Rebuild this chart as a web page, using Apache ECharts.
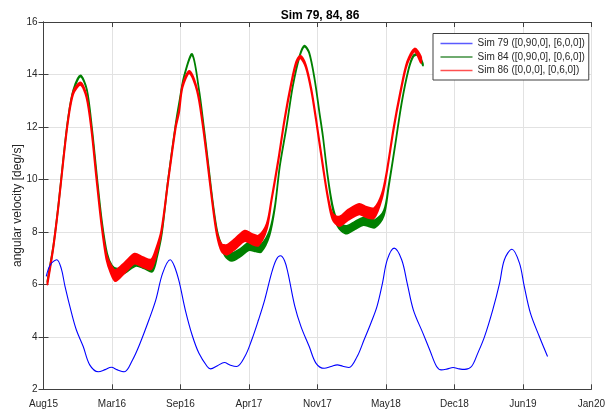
<!DOCTYPE html>
<html>
<head>
<meta charset="utf-8">
<script src="https://cdn.jsdelivr.net/npm/echarts@6/dist/echarts.min.js"></script>
<style>
  html, body { margin: 0; padding: 0; background: #fff; }
  #chart { width: 608px; height: 410px; }
</style>
</head>
<body>
<div id="chart"></div>
<script>
// x is measured in tick steps from Aug15 (0) to Jan20 (8)
const tickLabels = ['Aug15', 'Mar16', 'Sep16', 'Apr17', 'Nov17', 'May18', 'Dec18', 'Jun19', 'Jan20']

// Sim 79 (thin blue)
const blueX = [0.04, 0.1, 0.193, 0.26, 0.314, 0.41, 0.48, 0.58, 0.675, 0.8, 0.9, 0.99, 1.08, 1.18, 1.3, 1.4, 1.54, 1.64, 1.74, 1.85, 1.91,
  1.98, 2.07, 2.17, 2.27, 2.39, 2.44, 2.54, 2.64, 2.73, 2.82, 2.94, 3.04, 3.14, 3.23, 3.33, 3.4, 3.46, 3.52, 3.57, 3.67, 3.76, 3.88, 3.98,
  4.1, 4.2, 4.29, 4.37, 4.46, 4.58, 4.68, 4.78, 4.87, 4.95, 5.02, 5.12, 5.23, 5.31, 5.4, 5.54, 5.64, 5.74, 5.81, 5.9, 5.98,
  6.07, 6.15, 6.25, 6.34, 6.44, 6.56, 6.66, 6.73, 6.84, 6.95, 7.02, 7.11, 7.24, 7.36]
const blueY = [6.3, 6.75, 6.94, 6.6, 5.92, 4.9, 4.26, 3.63, 2.93, 2.67, 2.75, 2.84, 2.74, 2.67, 3.12, 3.69, 4.65, 5.41, 6.43, 6.94, 6.7,
  6.11, 5.03, 4.07, 3.37, 2.87, 2.78, 2.9, 3.02, 2.92, 2.87, 3.25, 3.88, 4.65, 5.41, 6.43, 6.95, 7.09, 6.9, 6.43, 5.16, 4.39, 3.63, 2.99,
  2.8, 2.87, 2.93, 2.88, 2.83, 3.25, 3.88, 4.52, 5.16, 6.05, 6.94, 7.38, 6.94, 6.05, 5.03, 4.14, 3.5, 2.87, 2.74, 2.78, 2.83,
  2.78, 2.76, 2.87, 3.37, 4.01, 5.03, 6.05, 6.94, 7.34, 6.81, 5.92, 4.9, 4.01, 3.25]

// Sim 84 (green): band centre and band width
const greenX = [0.058, 0.145, 0.217, 0.29, 0.36, 0.434, 0.54, 0.635, 0.71, 0.78, 0.855, 0.93, 1.0, 1.08, 1.2, 1.35, 1.47, 1.59,
  1.66, 1.73, 1.82, 1.93, 1.98, 2.05, 2.17, 2.27, 2.34, 2.41, 2.48, 2.55, 2.65, 2.75, 2.87, 3.0, 3.1, 3.18,
  3.3, 3.38, 3.45, 3.55, 3.64, 3.74, 3.81, 3.88, 3.96, 4.03, 4.08, 4.15, 4.22, 4.29, 4.41, 4.55, 4.67, 4.76, 4.84,
  4.97, 5.04, 5.14, 5.23, 5.33, 5.4, 5.47, 5.54]
const greenY = [6.12, 7.48, 9.0, 10.8, 12.35, 13.38, 13.94, 13.4, 11.9, 10.12, 8.34, 7.1, 6.6, 6.45, 6.6, 6.85, 6.75, 6.62,
  7.15, 8.0, 10.0, 12.1, 12.9, 13.9, 14.76, 13.43, 12.03, 10.5, 8.97, 7.83, 7.19, 7.04, 7.2, 7.45, 7.4, 7.38,
  7.95, 8.97, 10.5, 12.03, 13.55, 14.7, 15.08, 14.82, 13.8, 12.53, 11.64, 10.12, 8.97, 8.34, 8.08, 8.25, 8.4, 8.35, 8.31,
  8.72, 9.74, 11.39, 12.92, 14.19, 14.7, 14.76, 14.38]
const greenBand = [0.06, 0.06, 0.06, 0.06, 0.05, 0.05, 0.05, 0.05, 0.06, 0.06, 0.08, 0.15, 0.24, 0.3, 0.3, 0.3, 0.3, 0.28,
  0.2, 0.1, 0.06, 0.06, 0.05, 0.05, 0.05, 0.05, 0.05, 0.06, 0.06, 0.12, 0.22, 0.3, 0.3, 0.3, 0.3, 0.3,
  0.2, 0.1, 0.06, 0.06, 0.05, 0.05, 0.05, 0.05, 0.05, 0.06, 0.06, 0.06, 0.12, 0.22, 0.3, 0.3, 0.3, 0.3, 0.3,
  0.2, 0.1, 0.06, 0.06, 0.05, 0.05, 0.05, 0.08]

// Sim 86 (red): band centre and band width
const redX = [0.058, 0.145, 0.217, 0.29, 0.36, 0.434, 0.54, 0.627, 0.7, 0.77, 0.844, 0.917, 0.98, 1.05, 1.19, 1.33, 1.45, 1.57,
  1.64, 1.72, 1.823, 1.93, 1.98, 2.03, 2.13, 2.24, 2.315, 2.39, 2.46, 2.53, 2.6, 2.68, 2.8, 2.94, 3.05, 3.14,
  3.26, 3.33, 3.43, 3.52, 3.62, 3.69, 3.75, 3.83, 3.91, 3.98, 4.08, 4.15, 4.22, 4.32, 4.45, 4.61, 4.72, 4.83,
  4.94, 5.01, 5.11, 5.21, 5.31, 5.42, 5.51]
const redY = [6.05, 7.45, 8.97, 10.75, 12.28, 13.3, 13.65, 13.17, 11.9, 10.12, 8.34, 7.06, 6.6, 6.33, 6.65, 6.98, 6.85, 6.76,
  7.19, 8.0, 10.0, 12.0, 12.6, 13.55, 14.09, 13.43, 12.28, 10.75, 9.23, 7.95, 7.4, 7.32, 7.55, 7.85, 7.72, 7.67,
  8.21, 9.23, 10.75, 12.28, 13.68, 14.44, 14.67, 14.32, 13.42, 12.28, 10.5, 9.35, 8.59, 8.4, 8.65, 8.87, 8.75, 8.72,
  9.35, 10.24, 11.9, 13.3, 14.44, 14.93, 14.57]
const redBand = [0.1, 0.1, 0.1, 0.1, 0.1, 0.1, 0.1, 0.1, 0.1, 0.1, 0.1, 0.2, 0.32, 0.42, 0.4, 0.38, 0.38, 0.38,
  0.3, 0.12, 0.1, 0.1, 0.1, 0.1, 0.1, 0.1, 0.1, 0.1, 0.1, 0.12, 0.28, 0.38, 0.4, 0.4, 0.4, 0.38,
  0.22, 0.1, 0.1, 0.1, 0.1, 0.1, 0.1, 0.1, 0.1, 0.1, 0.1, 0.1, 0.22, 0.36, 0.4, 0.4, 0.4, 0.38,
  0.2, 0.1, 0.1, 0.1, 0.1, 0.12, 0.25]

const names = ['Sim 79 ([0,90,0], [6,0,0])', 'Sim 84 ([0,90,0], [0,6,0])', 'Sim 86 ([0,0,0], [0,6,0])']
const axisColor = '#404040'
const textColor = '#262626'
const gridColor = '#e2e2e2'
const fontFamily = '"Liberation Sans", Arial, Helvetica, sans-serif'

function pairs (xs, ys) {
  return xs.map((x, i) => [x, ys[i]])
}

// the noisy trace is drawn as a filled band: upper edge, then lower edge back
function bandSeries (name, color, xs, mid, band, stroke) {
  return {
    name: name,
    type: 'custom',
    coordinateSystem: 'cartesian2d',
    data: pairs(xs, mid),
    encode: { x: 0, y: 1 },
    itemStyle: { color: color },
    renderItem: (params, api) => {
      if (params.dataIndex !== 0) return null
      const upper = xs.map((x, i) => api.coord([x, mid[i] + band[i] / 2]))
      const lower = xs.map((x, i) => api.coord([x, mid[i] - band[i] / 2])).reverse()
      return {
        type: 'polygon',
        shape: { points: upper.concat(lower), smooth: 0.3 },
        style: { fill: color, stroke: color, lineWidth: stroke, lineJoin: 'round' }
      }
    }
  }
}

const chart = echarts.init(document.getElementById('chart'), null, { renderer: 'canvas' })

chart.setOption({
  animation: false,
  backgroundColor: '#fff',
  title: {
    text: 'Sim 79, 84, 86',
    left: 320,
    top: 10,
    padding: 0,
    textAlign: 'center',
    textStyle: { fontFamily: fontFamily, fontSize: 12, fontWeight: 'bold', color: '#000' }
  },
  legend: {
    data: [
      { name: names[0], itemStyle: { color: '#5a5aff' } },
      { name: names[1], itemStyle: { color: '#3f8f3f' } },
      { name: names[2], itemStyle: { color: '#ff5050' } }
    ],
    orient: 'vertical',
    left: 433,
    top: 33.5,
    icon: 'rect',
    itemWidth: 32,
    itemHeight: 1.5,
    itemGap: 1.5,
    padding: [4, 4, 3.5, 7.5],
    borderColor: axisColor,
    borderWidth: 1,
    borderRadius: 0,
    backgroundColor: '#fff',
    selectedMode: false,
    textStyle: { fontFamily: fontFamily, fontSize: 10, color: textColor, lineHeight: 12 }
  },
  grid: {
    left: 43.5,
    right: 10.7,
    top: 22,
    bottom: 20.7,
    containLabel: false
  },
  xAxis: [
    {
      type: 'value',
      min: 0,
      max: 8,
      interval: 1,
      axisLine: { lineStyle: { color: axisColor } },
      axisTick: { inside: true, length: 5, lineStyle: { color: axisColor } },
      axisLabel: {
        margin: 10,
        color: textColor,
        fontFamily: fontFamily,
        fontSize: 10,
        formatter: (v) => tickLabels[Math.round(v)]
      },
      splitLine: { show: true, lineStyle: { color: gridColor } }
    },
    {
      type: 'value',
      position: 'top',
      min: 0,
      max: 8,
      interval: 1,
      axisLine: { lineStyle: { color: axisColor } },
      axisTick: { inside: true, length: 5, lineStyle: { color: axisColor } },
      axisLabel: { show: false },
      splitLine: { show: false }
    }
  ],
  yAxis: [
    {
      type: 'value',
      min: 2,
      max: 16,
      interval: 2,
      name: 'angular velocity [deg/s]',
      nameLocation: 'middle',
      nameGap: 20,
      nameMoveOverlap: false,
      nameTextStyle: { fontFamily: fontFamily, fontSize: 12, color: textColor },
      axisLine: { show: true, lineStyle: { color: axisColor } },
      axisTick: { show: true, inside: true, length: 5, lineStyle: { color: axisColor } },
      axisLabel: { margin: 6, color: textColor, fontFamily: fontFamily, fontSize: 10 },
      splitLine: { show: true, lineStyle: { color: gridColor } }
    },
    {
      type: 'value',
      position: 'right',
      min: 2,
      max: 16,
      interval: 2,
      axisLine: { show: true, lineStyle: { color: axisColor } },
      axisTick: { show: true, inside: true, length: 5, lineStyle: { color: axisColor } },
      axisLabel: { show: false },
      splitLine: { show: false }
    }
  ],
  series: [
    {
      name: names[0],
      type: 'line',
      smooth: 0.35,
      showSymbol: false,
      symbol: 'none',
      data: pairs(blueX, blueY),
      lineStyle: { color: '#0000ff', width: 1.1 },
      itemStyle: { color: '#0000ff' }
    },
    bandSeries(names[1], '#008000', greenX, greenY, greenBand, 1.6),
    bandSeries(names[2], '#ff0000', redX, redY, redBand, 1.8)
  ]
})
</script>
</body>
</html>
